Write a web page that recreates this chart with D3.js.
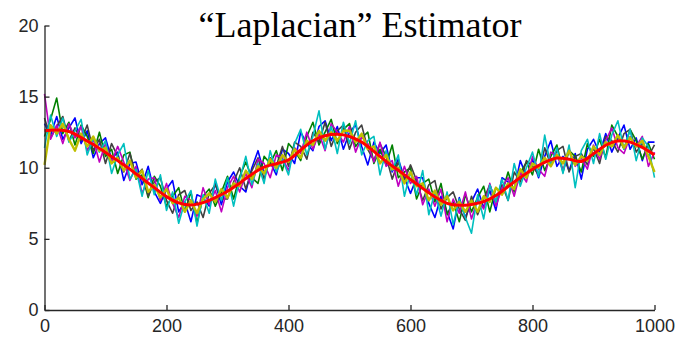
<!DOCTYPE html>
<html>
<head>
<meta charset="utf-8">
<script src="https://cdn.jsdelivr.net/npm/d3@7"></script>
<style>
  body { margin: 0; background: #fff; }
  svg { display: block; }
</style>
</head>
<body>
<div id="chart"></div>
<script>
// sample positions (every 10 units) for the noisy runs, every 20 for the fitted curve
const xs = d3.range(0, 1001, 10);
const fitX = d3.range(0, 1001, 20);

const xTicks = [0, 200, 400, 600, 800, 1000];
const yTicks = [0, 5, 10, 15, 20];
const title = '\u201CLaplacian\u201D Estimator';

// noisy estimates, one per colour
const blueRun = [13.1,12.3,13.6,12.0,12.8,13.5,11.7,12.6,10.7,11.7,12.1,10.6,11.1,9.1,10.3,10.4,8.8,10.1,8.3,7.5,
  8.5,9.1,6.9,7.6,6.2,8.1,7.9,7.3,8.9,7.4,9.0,9.7,8.7,8.3,10.0,11.2,9.6,10.4,9.5,11.3,
  11.0,10.3,12.5,11.7,11.2,12.9,13.3,11.9,12.9,11.3,12.5,13.0,11.5,10.2,11.8,11.0,11.6,9.7,10.6,9.3,
  8.2,9.3,9.3,7.5,6.5,8.0,6.9,5.7,7.9,6.5,7.6,8.5,7.2,8.4,7.0,9.3,9.0,8.5,10.5,9.4,
  10.6,9.3,10.8,11.9,10.1,10.8,9.8,11.0,9.2,11.3,12.0,11.0,12.4,11.1,12.1,13.0,11.3,12.1,10.5,11.8,11.8];
const greenRun = [12.2,13.4,14.9,12.4,13.2,11.6,13.0,12.2,11.0,12.5,10.8,11.3,9.6,10.9,11.1,9.2,9.5,7.9,9.4,8.7,
  7.3,8.0,8.6,6.9,8.3,6.1,8.0,8.5,7.3,8.3,9.4,7.8,9.4,10.4,9.3,8.9,10.8,10.3,11.2,9.8,
  11.7,11.2,10.5,12.2,13.2,11.6,12.5,13.4,11.7,12.7,13.1,11.5,12.1,12.5,10.3,11.3,10.2,11.6,9.3,9.7,
  10.0,7.8,8.9,9.2,7.6,8.9,6.7,7.6,6.2,8.1,6.9,7.9,8.7,6.9,8.6,8.2,9.7,8.3,9.6,10.4,
  9.5,11.3,9.8,10.8,11.6,9.7,11.2,10.8,9.7,11.7,10.8,12.0,10.7,13.0,12.2,11.3,12.7,11.9,10.6,11.7,10.6];
const blackRun = [13.5,12.1,12.9,13.6,11.9,12.8,11.9,13.0,11.2,12.0,10.3,11.7,10.8,9.7,11.0,9.4,9.9,8.0,9.0,9.3,
  7.7,6.8,8.1,8.4,7.0,7.6,6.5,8.2,8.8,7.8,7.8,9.0,10.0,8.5,9.8,10.7,9.2,10.7,10.1,11.5,
  10.1,11.8,11.5,10.6,12.5,11.8,13.2,11.5,12.6,13.0,11.3,12.5,13.0,11.3,10.5,11.7,10.8,9.2,10.4,9.1,
  10.2,9.1,7.7,8.8,9.1,7.1,7.9,8.3,7.1,6.3,8.0,6.7,7.8,8.8,7.6,8.8,7.7,9.7,9.0,10.5,
  10.1,9.5,11.4,10.2,11.2,11.5,9.7,10.8,11.0,10.2,11.4,10.3,12.2,11.9,11.1,12.4,12.7,11.1,11.7,10.8,11.6];
const magentaRun = [15.2,12.0,13.0,11.7,13.1,12.1,12.9,11.2,12.0,10.4,11.7,10.4,11.5,10.4,9.1,10.1,8.2,9.2,9.3,7.7,
  8.9,7.5,6.5,8.0,7.7,6.6,8.6,7.4,8.4,6.9,8.6,9.4,8.3,9.6,8.6,10.6,10.3,9.3,10.9,10.7,
  9.8,11.4,11.0,12.5,11.3,12.4,11.2,13.1,12.5,11.8,12.9,11.1,12.2,11.7,10.4,11.8,10.1,10.5,8.7,10.1,
  8.9,9.4,7.4,8.5,7.3,8.5,6.2,7.8,6.8,8.3,6.4,7.8,7.1,8.9,7.3,8.6,9.3,8.0,9.7,9.0,
  10.8,9.9,9.4,11.1,10.9,9.8,11.3,10.1,10.7,9.9,11.6,10.6,11.9,12.8,11.4,11.0,12.2,11.5,12.2,10.1,11.1];
const cyanRun = [11.4,13.7,12.2,13.5,11.8,12.6,13.4,10.9,12.1,11.1,11.9,9.6,10.9,11.7,9.2,9.9,8.0,9.8,8.1,9.5,
  7.0,8.3,6.1,7.6,8.4,5.9,8.1,6.8,9.2,7.7,9.3,7.3,9.2,10.8,8.8,10.3,8.9,11.2,9.7,10.6,
  9.5,11.7,12.7,10.9,12.2,14.0,11.3,12.9,11.0,13.2,11.7,13.3,10.9,11.9,12.2,9.5,11.2,9.8,10.9,8.0,
  9.7,8.1,9.8,6.7,8.3,6.6,8.3,6.0,7.8,6.5,5.4,8.1,6.4,8.8,7.6,9.2,7.7,10.3,8.7,10.0,
  11.1,9.4,12.3,10.1,11.4,9.6,11.6,8.6,11.2,12.0,10.3,12.4,10.6,12.3,13.3,11.3,12.7,10.5,12.1,11.5,9.3];
const yellowRun = [10.2,13.0,12.4,13.1,12.0,11.2,12.4,11.5,12.2,11.2,11.4,10.3,10.7,9.8,10.5,9.3,9.8,8.3,8.8,7.9,
  8.5,7.5,7.9,6.9,7.7,6.8,7.8,8.2,7.6,8.5,7.9,8.9,8.7,9.8,9.2,10.1,9.6,10.6,10.0,10.9,
  10.4,11.3,10.7,11.9,11.6,12.6,11.9,12.5,11.9,12.6,12.6,11.8,12.4,11.3,11.5,10.3,10.9,9.9,10.0,8.9,
  9.7,8.7,8.9,7.7,8.4,7.4,8.0,7.0,7.6,6.9,7.7,6.9,8.0,7.6,8.6,8.1,8.9,8.5,9.9,9.3,
  10.3,10.0,10.7,10.1,10.9,10.3,11.2,10.2,10.8,10.5,11.5,10.9,11.8,11.5,12.3,11.4,12.1,11.5,11.9,10.8,9.7];

// the smooth estimate drawn on top
const fitted = [12.60,12.65,12.55,12.12,11.63,11.08,10.50,9.90,9.25,8.60,
  7.97,7.53,7.38,7.55,7.90,8.35,8.92,9.55,10.05,10.28,
  10.55,11.25,11.90,12.25,12.35,12.20,11.80,11.15,10.45,9.82,
  9.18,8.55,7.95,7.50,7.36,7.42,7.62,8.05,8.68,9.32,
  9.90,10.38,10.68,10.60,10.44,10.98,11.58,11.88,11.80,11.43,10.90];

const runs = [
  { values: blueRun, color: '#0000ff', w: 1.6 },
  { values: greenRun, color: '#008000', w: 1.6 },
  { values: blackRun, color: '#404040', w: 1.6 },
  { values: magentaRun, color: '#bf00bf', w: 1.6 },
  { values: cyanRun, color: '#00bfbf', w: 1.6 },
  { values: yellowRun, color: '#bfbf00', w: 2.4 }
];

const width = 685, height = 337;
const margin = { left: 44.5, right: 30.5, top: 25.5, bottom: 27 };

const svg = d3.select('#chart').append('svg')
  .attr('width', width)
  .attr('height', height);

const x = d3.scaleLinear().domain([0, 1000]).range([margin.left, width - margin.right]);
const y = d3.scaleLinear().domain([0, 20]).range([height - margin.bottom, margin.top]);

const line = d3.line()
  .x(d => x(d[0]))
  .y(d => y(d[1]));

svg.selectAll('.run')
  .data(runs)
  .enter().append('path')
  .attr('class', 'run')
  .attr('fill', 'none')
  .attr('stroke', d => d.color)
  .attr('stroke-width', d => d.w)
  .attr('stroke-linejoin', 'round')
  .attr('d', d => line(xs.map((v, i) => [v, d.values[i]])));

svg.append('path')
  .datum(fitX.map((v, i) => [v, fitted[i]]))
  .attr('fill', 'none')
  .attr('stroke', '#ff0000')
  .attr('stroke-width', 3)
  .attr('d', line.curve(d3.curveCatmullRom));

// axes, MATLAB style: ticks point inward, no box
const xAxis = d3.axisBottom(x).tickValues(xTicks).tickFormat(d3.format('d'))
  .tickSize(-5).tickSizeOuter(0).tickPadding(9);
const yAxis = d3.axisLeft(y).tickValues(yTicks).tickFormat(d3.format('d'))
  .tickSize(-5).tickSizeOuter(0).tickPadding(6);

const gx = svg.append('g')
  .attr('transform', `translate(0,${y(0)})`)
  .call(xAxis);
const gy = svg.append('g')
  .attr('transform', `translate(${x(0)},0)`)
  .call(yAxis);

[gx, gy].forEach(g => {
  g.select('.domain').attr('stroke', '#262626').attr('stroke-width', 1.3);
  g.selectAll('.tick line').attr('stroke', '#262626').attr('stroke-width', 1.3);
  g.selectAll('.tick text')
    .attr('fill', '#262626')
    .attr('font-family', '"Liberation Sans", Arial, sans-serif')
    .attr('font-size', '18px');
});

svg.append('text')
  .attr('x', 360)
  .attr('y', 37)
  .attr('text-anchor', 'middle')
  .attr('font-family', '"Liberation Serif", "Times New Roman", serif')
  .attr('font-size', '36px')
  .attr('fill', '#000')
  .text(title);
</script>
</body>
</html>
